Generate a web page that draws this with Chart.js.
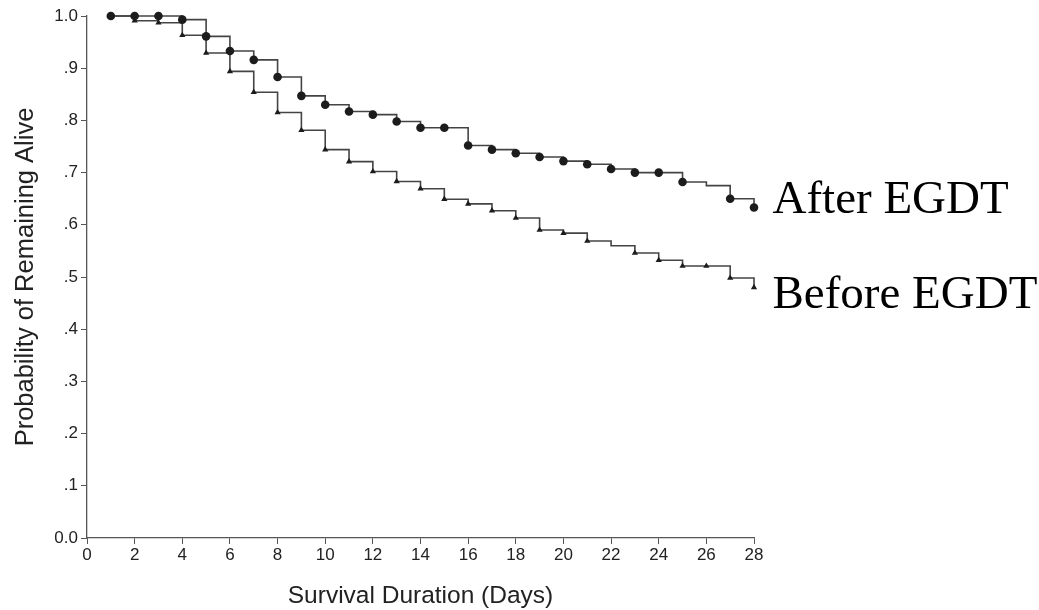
<!DOCTYPE html>
<html>
<head>
<meta charset="utf-8">
<script src="https://cdn.jsdelivr.net/npm/chart.js@4"></script>
<style>
  html, body { margin: 0; padding: 0; background: #fff; }
  #wrap { width: 1039px; height: 610px; }
</style>
</head>
<body>
<div id="wrap"><canvas id="kmChart" width="1039" height="610"></canvas></div>
<script>
// survival days
const days = [1, 2, 3, 4, 5, 6, 7, 8, 9, 10, 11, 12, 13, 14, 15, 16, 17, 18, 19, 20, 21, 22, 23, 24, 25, 26, 27, 28];

// Kaplan-Meier estimates
const afterValues = [1.0, 1.0, 1.0, 0.993, 0.961, 0.933, 0.916, 0.883, 0.847, 0.830, 0.817, 0.811, 0.798, 0.786,
    0.786, 0.752, 0.744, 0.737, 0.730, 0.722, 0.716, 0.707, 0.700, 0.700, 0.682, 0.675, 0.650, 0.633];
const beforeValues = [1.0, 0.991, 0.987, 0.963, 0.929, 0.894, 0.854, 0.815, 0.781, 0.744, 0.721, 0.702, 0.683, 0.669,
    0.649, 0.640, 0.627, 0.613, 0.590, 0.584, 0.569, 0.560, 0.546, 0.532, 0.521, 0.521, 0.498, 0.480];

// days that carry no marker
const afterUnmarked = [26];
const beforeUnmarked = [1, 22];

// curves run a little past the last day
const tailDay = 28.65;

const seriesNames = ['After EGDT', 'Before EGDT'];
const yTickLabels = ['0.0', '.1', '.2', '.3', '.4', '.5', '.6', '.7', '.8', '.9', '1.0'];

function buildPoints(values) {
    const pts = days.map((d, i) => ({ x: d, y: values[i] }));
    pts.push({ x: tailDay, y: values[values.length - 1] });
    return pts;
}

function markerRadius(unmarked, r) {
    return days.map(d => unmarked.includes(d) ? 0 : r).concat([0]);
}

// text offsets (px) for the labels at the end of each curve
const labelDy = [5, 21];

const endLabels = {
    id: 'endLabels',
    afterDatasetsDraw(chart) {
        const ctx = chart.ctx;
        ctx.save();
        ctx.font = '47px "Liberation Serif", "DejaVu Serif", serif';
        ctx.fillStyle = '#000';
        ctx.textAlign = 'left';
        ctx.textBaseline = 'alphabetic';
        chart.data.datasets.forEach((ds, i) => {
            const meta = chart.getDatasetMeta(i);
            const last = meta.data[meta.data.length - 1];
            ctx.fillText(seriesNames[i], last.x + 3, last.y + labelDy[i]);
        });
        ctx.restore();
    }
};

const ctx = document.getElementById('kmChart');

new Chart(ctx, {
    type: 'line',
    data: {
        datasets: [{
            label: seriesNames[0],
            data: buildPoints(afterValues),
            stepped: 'before',
            borderColor: '#444',
            borderWidth: 1.6,
            pointStyle: 'circle',
            pointRadius: markerRadius(afterUnmarked, 4.3),
            pointBackgroundColor: '#1c1c1c',
            pointBorderColor: '#1c1c1c',
            pointBorderWidth: 0,
            fill: false,
            clip: false
        }, {
            label: seriesNames[1],
            data: buildPoints(beforeValues),
            stepped: 'before',
            borderColor: '#444',
            borderWidth: 1.6,
            pointStyle: 'triangle',
            pointRadius: markerRadius(beforeUnmarked, 3.6),
            pointBackgroundColor: '#1c1c1c',
            pointBorderColor: '#1c1c1c',
            pointBorderWidth: 0,
            fill: false,
            clip: false
        }]
    },
    options: {
        responsive: false,
        animation: false,
        layout: { padding: { left: 0, right: 285, top: 16, bottom: 0 } },
        plugins: {
            legend: { display: false },
            tooltip: { enabled: false }
        },
        scales: {
            x: {
                type: 'linear',
                min: 0,
                max: 28,
                afterFit: s => { s.height = 72; },
                ticks: {
                    stepSize: 2,
                    padding: 1,
                    color: '#222',
                    font: { family: 'Liberation Sans, Arial, sans-serif', size: 17 }
                },
                grid: { drawOnChartArea: false, drawTicks: true, tickLength: 6, color: '#555' },
                border: { color: '#555', width: 1.3 },
                title: {
                    display: true,
                    text: 'Survival Duration (Days)',
                    color: '#222',
                    padding: { top: 0, bottom: 0 },
                    font: { family: 'Liberation Sans, Arial, sans-serif', size: 24.5, lineHeight: 1.1 }
                }
            },
            y: {
                min: 0,
                max: 1,
                afterFit: s => { s.width = 87; },
                ticks: {
                    stepSize: 0.1,
                    padding: 3,
                    color: '#222',
                    font: { family: 'Liberation Sans, Arial, sans-serif', size: 17 },
                    callback: v => yTickLabels[Math.round(v * 10)]
                },
                grid: { drawOnChartArea: false, drawTicks: true, tickLength: 6, color: '#555' },
                border: { color: '#555', width: 1.3 },
                title: {
                    display: true,
                    text: 'Probability of Remaining Alive',
                    color: '#222',
                    padding: { top: 12, bottom: 0 },
                    font: { family: 'Liberation Sans, Arial, sans-serif', size: 25.5, lineHeight: 1.1 }
                }
            }
        }
    },
    plugins: [endLabels]
});
</script>
</body>
</html>
